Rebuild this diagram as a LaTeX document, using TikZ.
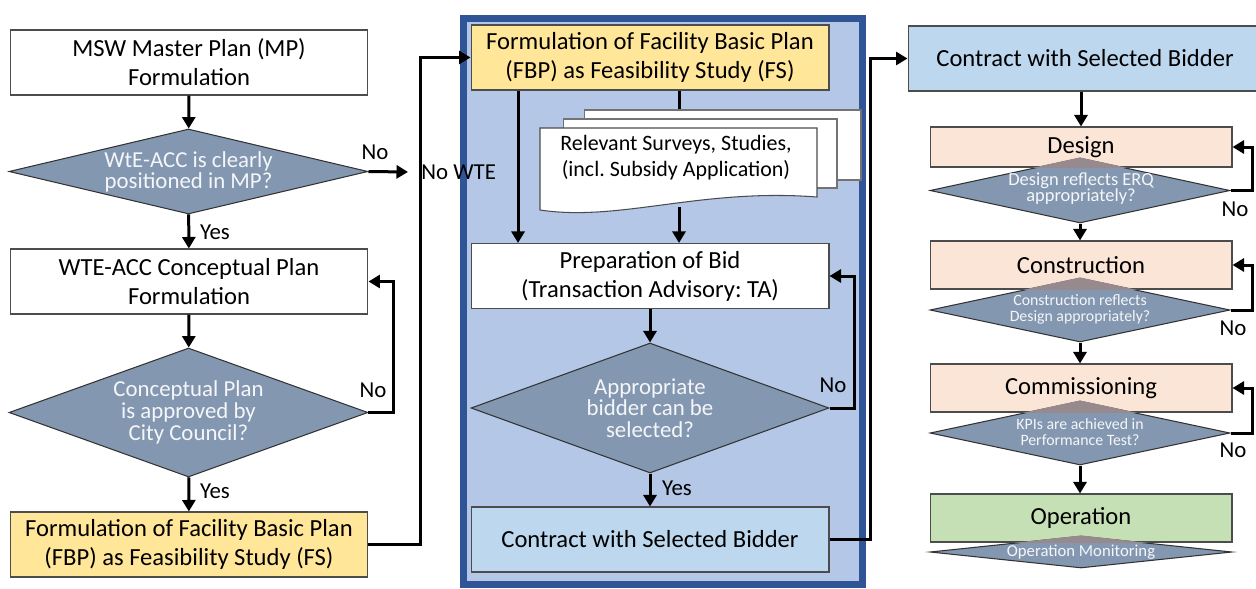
\documentclass[tikz,border=0pt]{standalone}
\usepackage{fontspec}
\setmainfont{Carlito}
\usepackage{tikz}
\usetikzlibrary{shapes.geometric, arrows.meta}
\frenchspacing

\definecolor{askfill}{HTML}{8497B0}
\definecolor{asktext}{HTML}{F4F6F9}
\definecolor{fbpyellow}{HTML}{FFE699}
\definecolor{paneledge}{HTML}{2F5597}
\definecolor{panelfill}{HTML}{B4C7E7}
\definecolor{contractblue}{HTML}{BDD7EE}
\definecolor{stagepeach}{HTML}{FBE5D6}
\definecolor{opgreen}{HTML}{C5E0B4}
\definecolor{overlapc}{HTML}{968A8E}

\begin{document}
\begin{tikzpicture}[x=0.02cm, y=-0.02cm,
    box/.style={draw=black!70, line width=0.6pt, fill=white, minimum width=7.16cm,
        minimum height=1.3cm, align=center, inner sep=1pt, font=\fontsize{14}{16.5}\selectfont},
    stage/.style={box, fill=stagepeach, minimum width=6.04cm, minimum height=0.96cm},
    ask/.style={diamond, draw=black!80, fill=askfill, line width=0.6pt, inner sep=0pt},
    asktxt/.style={text=asktext, align=center, inner sep=0pt},
    lbl/.style={font=\fontsize{13}{13}\selectfont, inner sep=1pt},
    arr/.style={line width=0.06cm, -{Triangle[length=0.23cm, width=0.26cm]}},
    conn/.style={line width=0.06cm}]
    \useasboundingbox (0,0) rectangle (1256,588);

    % Middle panel (bidding stage)
    \draw[line width=0.14cm, draw=paneledge, fill=panelfill] (463.5,18.5) rectangle (862.5,584.5);

    % Left column: planning
    \node[box] (mp) at (189,62.5) {MSW Master Plan (MP)\\Formulation};
    \node[ask, minimum width=7.18cm, minimum height=1.7cm] (q1) at (188.5,171.5) {};
    \node[asktxt, font=\fontsize{13}{12}\selectfont] (q1t) at (q1) {WtE-ACC is clearly\\positioned in MP?};
    \node[box] (cp) at (189,281.5) {WTE-ACC Conceptual Plan\\Formulation};
    \node[ask, minimum width=7.18cm, minimum height=2.58cm] (q2) at (188.5,412.5) {};
    \node[asktxt, font=\fontsize{13}{12.3}\selectfont] (q2t) at (q2) {Conceptual Plan\\is approved by\\City Council?};
    \node[box, fill=fbpyellow] (fbp1) at (189,544.5) {Formulation of Facility Basic Plan\\(FBP) as Feasibility Study (FS)};
    \node[lbl, anchor=west, inner xsep=0.26cm] (nowte) at (408,172) {No WTE};

    \draw[arr] (mp) -- (q1);
    \draw[arr] (q1) -- (cp);
    \draw[arr] (q1.east) -- (nowte.west);
    \draw[arr] (cp) -- (q2);
    \draw[arr] (q2) -- (fbp1);
    \draw[arr] (q2.east) -- ++(25,0) |- (cp.east);
    \node[lbl] (no1) at (375,152) {No};
    \node[lbl] (yes1) at (215,232) {Yes};
    \node[lbl] (no2) at (373,390) {No};
    \node[lbl] (yes2) at (215,491) {Yes};

    % Middle column: FS and bidding
    \node[box, fill=fbpyellow] (fbp2) at (650,57.5) {Formulation of Facility Basic Plan\\(FBP) as Feasibility Study (FS)};
    \node[draw=black!55, line width=0.6pt, fill=white, minimum width=5.54cm, minimum height=1.4cm] (pg3) at (722.5,145) {};
    \node[draw=black!55, line width=0.6pt, fill=white, minimum width=5.48cm, minimum height=1.38cm] (pg2) at (700,153.5) {};
    \draw[draw=black!70, line width=0.6pt, fill=white] (540,128) -- (817,128) -- (817,197)
        .. controls (700,188) and (620,222) .. (540,210) -- cycle;
    \node[align=center, font=\fontsize{12.5}{14.8}\selectfont] (doc) at (676,158) {Relevant Surveys, Studies,\\(incl. Subsidy Application)};
    \coordinate (docbot) at (679,207);
    \node[box] (bid) at (650,276) {Preparation of Bid\\(Transaction Advisory: TA)};
    \node[ask, minimum width=7.16cm, minimum height=2.6cm] (q3) at (650,408) {};
    \node[asktxt, font=\fontsize{13}{12.3}\selectfont] (q3t) at (q3) {Appropriate\\bidder can be\\selected?};
    \node[box, fill=contractblue] (ctr2) at (650,539.5) {Contract with Selected Bidder};

    \draw[arr] (fbp1.east) -- ++(52,0) |- (fbp2.west);
    \draw[conn] (fbp2.south -| docbot) -- (pg3.north -| docbot);
    \draw[arr] ([xshift=-2.64cm]fbp2.south) -- ([xshift=-2.64cm]bid.north);
    \draw[arr] (docbot) -- (bid.north -| docbot);
    \draw[arr] (bid) -- (q3);
    \draw[arr] (q3) -- (ctr2);
    \draw[arr] (q3.east) -- ++(25,0) |- (bid.east);
    \node[lbl] (no3) at (833,385) {No};
    \node[lbl] (yes3) at (677,488) {Yes};

    % Right column: implementation
    \node[box, fill=contractblue, minimum width=7.08cm] (ctr3) at (1085,58.5) {Contract with Selected Bidder};
    \node[stage, minimum height=0.8cm] (des) at (1081,147) {Design};
    \node[stage] (con) at (1081,265) {Construction};
    \node[stage] (com) at (1081,388) {Commissioning};
    \node[stage, fill=opgreen] (opr) at (1081,518) {Operation};
    \node[ask, minimum width=6cm, minimum height=1.3cm] (dq1) at (1080,190.5) {};
    \node[ask, minimum width=6cm, minimum height=1.28cm] (dq2) at (1080,310) {};
    \node[ask, minimum width=6cm, minimum height=1.28cm] (dq3) at (1080,433) {};
    \node[ask, minimum width=6.04cm, minimum height=0.64cm] (dq4) at (1081,552) {};
    \foreach \b/\q in {des/dq1, con/dq2, com/dq3, opr/dq4} {
        \begin{scope}
            \clip (\b.south west) rectangle (\b.north east);
            \fill[overlapc] (\q.north) -- (\q.east) -- (\q.south) -- (\q.west) -- cycle;
        \end{scope}
    }
    \node[asktxt, font=\fontsize{10.5}{9.2}\selectfont] (dq1t) at (1081,189) {Design reflects ERQ\\appropriately?};
    \node[asktxt, font=\fontsize{9}{9.2}\selectfont] (dq2t) at (1080,309) {Construction reflects\\Design appropriately?};
    \node[asktxt, font=\fontsize{9}{9.2}\selectfont] (dq3t) at (1080,432) {KPIs are achieved in\\Performance Test?};
    \node[asktxt, font=\fontsize{9.5}{9.5}\selectfont] (dq4t) at (dq4) {Operation Monitoring};

    \draw[arr] (ctr2.east) -- ++(41,0) |- (ctr3.west);
    \draw[arr] (des.north |- ctr3.south) -- (des.north);
    \draw[arr] (dq1.south) -- (dq1.south |- con.north);
    \draw[arr] (dq2.south) -- (dq2.south |- com.north);
    \draw[arr] (dq3.south) -- (dq3.south |- opr.north);
    \draw[arr] (dq1.east) -- ++(22,0) |- (des.east);
    \draw[arr] (dq2.east) -- ++(22,0) |- (con.east);
    \draw[arr] (dq3.east) -- ++(22,0) |- (com.east);
    \node[lbl] (no4) at (1235,209) {No};
    \node[lbl] (no5) at (1233,328) {No};
    \node[lbl] (no6) at (1233,450) {No};
\end{tikzpicture}
\end{document}
